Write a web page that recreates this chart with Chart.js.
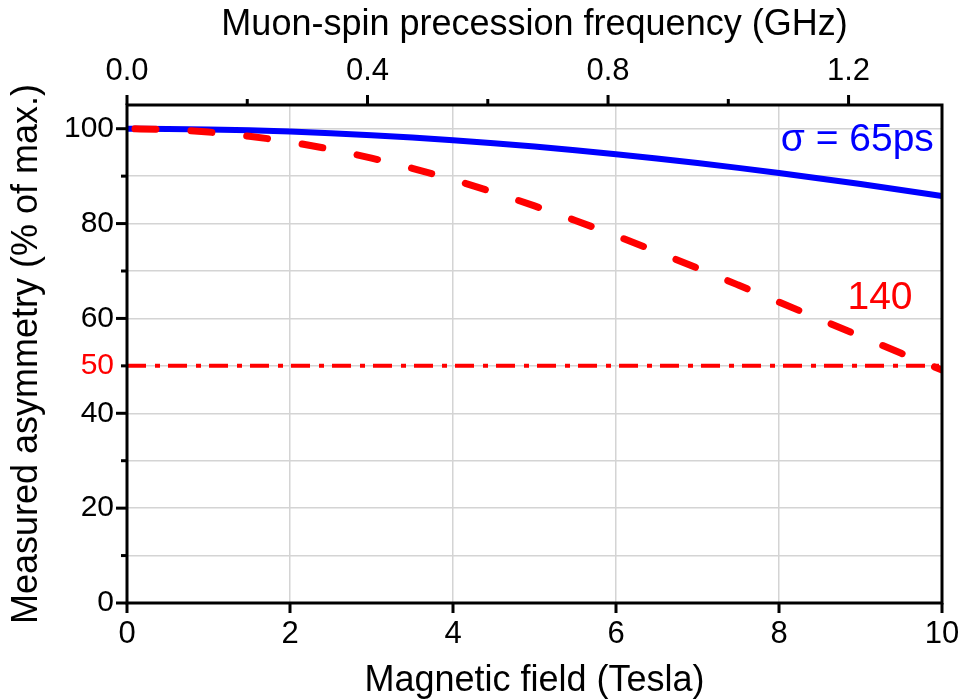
<!DOCTYPE html>
<html>
<head>
<meta charset="utf-8">
<script src="https://cdn.jsdelivr.net/npm/chart.js@4.4.1/dist/chart.umd.min.js"></script>
<style>
  html, body { margin: 0; padding: 0; background: #fff; }
  #wrap { position: relative; width: 959px; height: 699px; }
</style>
</head>
<body>
<div id="wrap"><canvas id="chart"></canvas></div>
<script>
const fieldTesla = [0, 0.5, 1, 1.5, 2, 2.5, 3, 3.5, 4, 4.5, 5, 5.5, 6, 6.5, 7, 7.5, 8, 8.5, 9, 9.5, 10];
// sigma = 65 ps (blue, solid)
const asym65 = [100, 99.96, 99.85, 99.66, 99.39, 99.05, 98.63, 98.14, 97.58, 96.95, 96.24,
  95.47, 94.63, 93.73, 92.77, 91.74, 90.66, 89.52, 88.33, 87.09, 85.8];
// sigma = 140 ps (red, dashed)
const asym140 = [100, 99.82, 99.29, 98.41, 97.2, 95.65, 93.8, 91.66, 89.25, 86.59, 83.72,
  80.65, 77.42, 74.06, 70.59, 67.04, 63.45, 59.84, 56.23, 52.65, 49.13];
// 50 % reference level (dash-dot)
const halfLevelX = [0, 10];
const halfLevelY = [50, 50];

const xTicks = [0, 2, 4, 6, 8, 10];
const yTicks = [0, 10, 20, 30, 40, 50, 60, 70, 80, 90, 100];
const yLabelled = [0, 20, 40, 50, 60, 80, 100];
const yMajor = [0, 20, 40, 60, 80, 100];
const freqTicks = [0, 0.2, 0.4, 0.6, 0.8, 1.0, 1.2];
const freqLabelled = [0, 0.4, 0.8, 1.2];
const GHZ_PER_TESLA = 0.13554;

const notes = [
  { text: 'σ = 65ps', x: 9.9, y: 95.3, color: '#0000ff', align: 'right' },
  { text: '140', x: 8.84, y: 62, color: '#ff0000', align: 'left' }
];

const FONT = "'Liberation Sans', Arial, sans-serif";
Chart.defaults.font.family = FONT;
Chart.defaults.color = '#000';

function pts(xs, ys) {
  return xs.map((x, i) => ({ x: x, y: ys[i] }));
}

// tick marks, frame and the two curve labels
const axisFrame = {
  id: 'axisFrame',
  afterDatasetsDraw(chart) {
    const { ctx, chartArea: a, scales } = chart;
    ctx.save();
    ctx.strokeStyle = '#000';
    ctx.lineWidth = 3;
    ctx.lineCap = 'butt';
    const seg = (x1, y1, x2, y2) => {
      ctx.beginPath(); ctx.moveTo(x1, y1); ctx.lineTo(x2, y2); ctx.stroke();
    };
    yTicks.forEach(v => {
      const y = scales.y.getPixelForValue(v);
      seg(a.left - (yMajor.includes(v) ? 11 : 6), y, a.left, y);
    });
    xTicks.forEach(v => {
      const x = scales.x.getPixelForValue(v);
      seg(x, a.bottom, x, a.bottom + 10);
    });
    freqTicks.forEach(v => {
      const x = scales.x2.getPixelForValue(v);
      seg(x, a.top, x, a.top - (freqLabelled.includes(v) ? 10 : 6));
    });
    ctx.lineJoin = 'miter';
    ctx.strokeRect(a.left, a.top, a.right - a.left, a.bottom - a.top);

    ctx.font = '39px ' + FONT;
    ctx.textBaseline = 'alphabetic';
    notes.forEach(n => {
      ctx.fillStyle = n.color;
      ctx.textAlign = n.align;
      ctx.fillText(n.text, scales.x.getPixelForValue(n.x), scales.y.getPixelForValue(n.y));
    });
    ctx.restore();
  }
};

new Chart(document.getElementById('chart'), {
  type: 'line',
  data: {
    datasets: [
      {
        label: '140 ps',
        data: pts(fieldTesla, asym140),
        borderColor: '#ff0000',
        borderWidth: 7,
        borderDash: [21, 35],
        borderDashOffset: 48,
        borderCapStyle: 'round',
        cubicInterpolationMode: 'monotone',
        pointRadius: 0,
        fill: false
      },
      {
        label: '65 ps',
        data: pts(fieldTesla, asym65),
        borderColor: '#0000ff',
        borderWidth: 6,
        cubicInterpolationMode: 'monotone',
        pointRadius: 0,
        fill: false
      },
      {
        label: '50 %',
        data: pts(halfLevelX, halfLevelY),
        borderColor: '#ff0000',
        borderWidth: 4,
        borderDash: [19, 9, 5, 8],
        borderCapStyle: 'butt',
        pointRadius: 0,
        fill: false
      }
    ]
  },
  options: {
    responsive: true,
    maintainAspectRatio: false,
    animation: false,
    layout: { padding: { left: 0, right: 17, top: 0, bottom: 0 } },
    plugins: { legend: { display: false }, tooltip: { enabled: false } },
    scales: {
      x: {
        type: 'linear',
        position: 'bottom',
        min: 0,
        max: 10,
        afterBuildTicks: s => { s.ticks = xTicks.map(v => ({ value: v })); },
        afterFit: s => { s.height = 96; s.paddingLeft = 0; s.paddingRight = 0; },
        border: { display: false },
        grid: { color: '#d4d4d4', lineWidth: 1.5, drawTicks: false },
        ticks: { font: { size: 31 }, color: '#000', padding: 13, maxRotation: 0, autoSkip: false },
        title: {
          display: true,
          text: 'Magnetic field (Tesla)',
          font: { size: 36, lineHeight: 1 },
          color: '#000',
          padding: { top: 0, bottom: 0 }
        }
      },
      x2: {
        type: 'linear',
        position: 'top',
        min: 0,
        max: 10 * GHZ_PER_TESLA,
        afterBuildTicks: s => { s.ticks = freqTicks.map(v => ({ value: v })); },
        afterFit: s => { s.height = 105; s.paddingLeft = 0; s.paddingRight = 0; },
        border: { display: false },
        grid: { drawOnChartArea: false, drawTicks: false },
        ticks: {
          font: { size: 31 },
          color: '#000',
          padding: 15,
          maxRotation: 0,
          autoSkip: false,
          callback: v => freqLabelled.some(f => Math.abs(f - v) < 1e-6) ? v.toFixed(1) : ''
        },
        title: {
          display: true,
          text: 'Muon-spin precession frequency (GHz)',
          font: { size: 36, lineHeight: 1 },
          color: '#000',
          padding: { top: 7, bottom: 0 }
        }
      },
      y: {
        type: 'linear',
        position: 'left',
        min: 0,
        max: 105,
        afterBuildTicks: s => { s.ticks = yTicks.map(v => ({ value: v })); },
        afterFit: s => { s.width = 127; s.paddingTop = 0; s.paddingBottom = 0; },
        border: { display: false },
        grid: { color: '#d4d4d4', lineWidth: 1.5, drawTicks: false },
        ticks: {
          font: { size: 30 },
          padding: 13,
          autoSkip: false,
          color: c => (c.tick && c.tick.value === 50 ? '#ff0000' : '#000'),
          callback: v => yLabelled.includes(v) ? String(v) : ''
        },
        title: {
          display: true,
          text: 'Measured asymmetry (% of max.)',
          font: { size: 36, lineHeight: 1 },
          color: '#000',
          padding: { top: 9, bottom: 0 }
        }
      }
    }
  },
  plugins: [axisFrame]
});
</script>
</body>
</html>
